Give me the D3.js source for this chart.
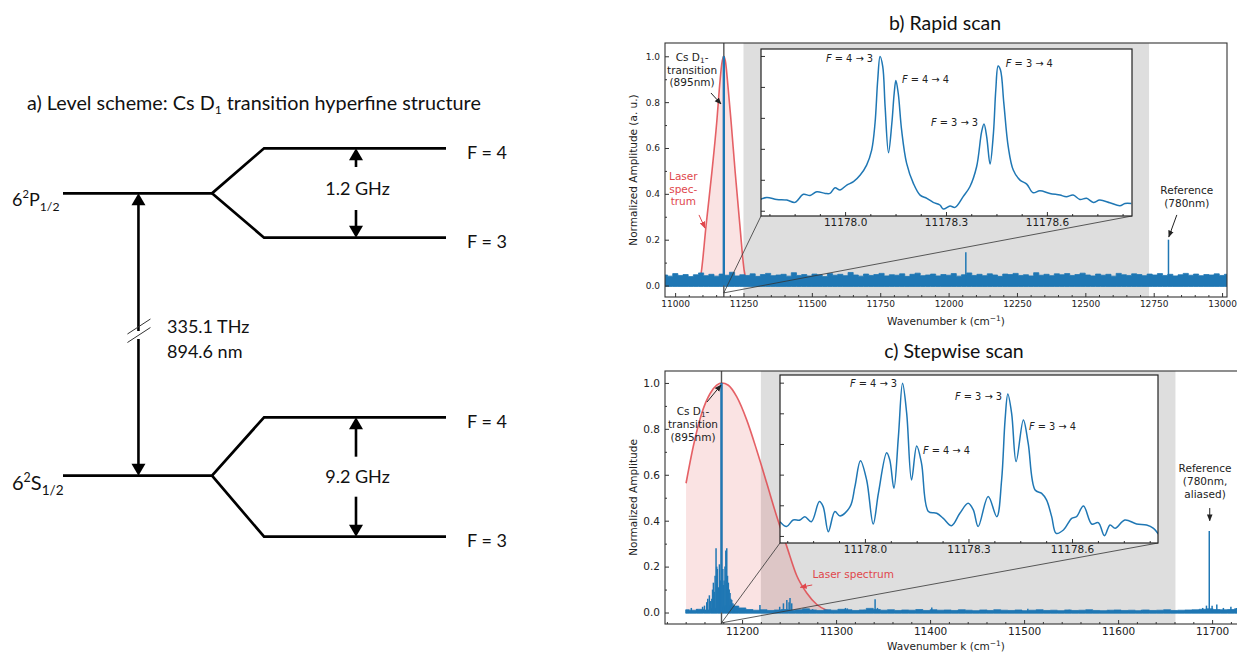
<!DOCTYPE html>
<html>
<head>
<meta charset="utf-8">
<script src="https://cdn.jsdelivr.net/npm/d3@7"></script>
<style>
  body { margin: 0; background: #fff; }
  svg { display: block; }
</style>
</head>
<body>
<script>
// ---------- data ----------
// a) level scheme (diagram units)
const fineLevelY = [2.486, 8.134];      // 6S1/2, 6P1/2
const upperF4Y = [3.654, 9.034];        // F = 4
const lowerF3Y = [1.266, 7.246];        // F = 3
const gapTopY = [2.866, 8.66];          // arrow shafts start (above the GHz text)
const gapBottomY = [2.066, 7.8];        // arrow shafts start (below the GHz text)
const splitText = ['9.2 GHz', '1.2 GHz'];
const levelXs = [0, 0.389, 0.525, 1.0];
const mainArrowX = 0.197;
const hfArrowX = 0.765;
const breakY = 5.3;

// shared ticks
const ampTicks = [0, 0.2, 0.4, 0.6, 0.8, 1.0];
const insetTickK = [11178.0, 11178.3, 11178.6];
const csLineK = 11178.1;

// b) rapid scan
const bTickK = [11000, 11250, 11500, 11750, 12000, 12250, 12500, 12750, 13000];
const bSpan = [11250, 12733];
const bLaserK = [11088, 11097, 11113, 11134, 11152, 11164, 11171, 11178, 11185, 11191, 11205, 11220, 11237, 11252, 11265];
const bLaserV = [0, 0.07, 0.26, 0.49, 0.71, 0.89, 0.97, 1.0, 0.97, 0.90, 0.71, 0.49, 0.26, 0.07, 0];
const bNoiseRange = [10963, 13018];
const bNoiseTop = [0.046,0.041,0.052,0.044,0.048,0.039,0.047,0.055,0.043,0.049,0.041,0.050,0.045,0.058,0.042,0.047,0.044,0.051,0.040,0.048,
  0.053,0.043,0.046,0.049,0.041,0.056,0.044,0.048,0.042,0.050,0.047,0.039,0.052,0.045,0.049,0.043,0.057,0.046,0.041,0.050,
  0.044,0.048,0.053,0.042,0.047,0.045,0.051,0.040,0.049,0.054,0.043,0.046,0.050,0.042,0.048,0.045,0.052,0.041,0.047,0.055,
  0.044,0.049,0.043,0.051,0.046,0.040,0.050,0.048,0.053,0.044,0.047,0.042,0.056,0.045,0.049,0.043,0.051,0.047,0.052,0.044,
  0.048,0.054,0.046,0.042,0.050,0.045,0.049,0.041,0.053,0.047,0.044,0.051,0.048,0.043,0.050,0.046,0.052,0.044,0.049,0.042,
  0.047,0.053,0.045,0.050,0.043,0.048,0.046,0.051,0.044,0.049];
const bSpikeK = [12063, 12804];
const bSpikeV = [0.145, 0.20];
const bInsetK = [11177.748,11177.767,11177.797,11177.827,11177.851,11177.876,11177.896,11177.916,11177.941,11177.955,
  11177.970,11177.985,11178.005,11178.025,11178.045,11178.064,11178.079,11178.089,11178.097,11178.104,
  11178.112,11178.119,11178.129,11178.139,11178.146,11178.151,11178.158,11178.168,11178.183,11178.203,
  11178.223,11178.243,11178.262,11178.282,11178.292,11178.312,11178.327,11178.351,11178.371,11178.391,
  11178.406,11178.413,11178.421,11178.431,11178.441,11178.448,11178.455,11178.462,11178.472,11178.485,
  11178.500,11178.520,11178.540,11178.559,11178.579,11178.609,11178.639,11178.658,11178.678,11178.698,
  11178.718,11178.738,11178.757,11178.787,11178.817,11178.832,11178.851];
const bInsetV = [0.073,0.086,0.073,0.069,0.054,0.106,0.099,0.123,0.112,0.112,
  0.149,0.134,0.166,0.188,0.231,0.295,0.392,0.565,0.845,0.996,
  0.931,0.672,0.375,0.565,0.759,0.841,0.759,0.522,0.306,0.177,
  0.101,0.080,0.054,0.037,0.011,0.030,0.022,0.091,0.155,0.284,
  0.511,0.560,0.478,0.302,0.500,0.780,0.935,0.909,0.694,0.414,
  0.263,0.198,0.172,0.116,0.129,0.112,0.101,0.091,0.101,0.073,
  0.080,0.054,0.069,0.052,0.032,0.047,0.047];
const bPeakLabel = ['4 → 3', '4 → 4', '3 → 3', '3 → 4'];
const bPeakLabelK = [11178.083, 11178.169, 11178.395, 11178.478];
const bPeakLabelV = [0.961, 0.825, 0.548, 0.929];
const peakLabelAnchor = ['end', 'start', 'end', 'start'];

// c) stepwise scan
const cTickK = [11200, 11300, 11400, 11500, 11600, 11700];
const cSpan = [11220, 11661];
const cLaserK = [11140.4, 11148, 11157, 11166, 11173, 11178.4, 11185.4, 11194.4, 11205, 11215.6, 11226.3, 11236.9, 11247.6, 11258.2, 11268.8, 11279.5, 11290, 11298];
const cLaserV = [0.563, 0.722, 0.867, 0.954, 0.99, 1.0, 0.99, 0.939, 0.838, 0.707, 0.563, 0.418, 0.287, 0.16, 0.085, 0.035, 0.01, 0.0];
const cNoiseRange = [11140, 11735];
const cNoiseTop = [0.012,0.010,0.014,0.011,0.018,0.024,0.030,0.028,0.020,0.013,
  0.010,0.012,0.009,0.011,0.013,0.010,0.012,0.016,0.011,0.009,
  0.012,0.010,0.014,0.012,0.009,0.011,0.018,0.013,0.010,0.012,
  0.009,0.011,0.010,0.013,0.009,0.012,0.010,0.011,0.009,0.012,
  0.010,0.008,0.011,0.009,0.012,0.010,0.009,0.011,0.008,0.010,
  0.012,0.009,0.010,0.008,0.011,0.009,0.010,0.012,0.009,0.008,
  0.010,0.011,0.009,0.010,0.008,0.011,0.009,0.010,0.012,0.009,
  0.010,0.011,0.012,0.014,0.016,0.013,0.012,0.013,0.016,0.018];
const cSpikeK = [11146,11152,11158,11160,11162.4,11163.5,11165.2,11166.5,11167.8,11168.6,11169.5,11170.4,11171.3,11172.3,11173,
  11173.7,11174.8,11175.9,11176.8,11179.5,11180.2,11180.9,11181.8,11182.7,11183.7,11184.5,11185.4,11186.3,11187.2,11188,
  11189,11190.2,11191.5,11193,11194.4,11219,11240,11244,11247.6,11250,11251,11252.8,11275,11310,11312,11330,11341.5,11344,
  11370,11401.8,11430,11460,11504,11548,11590,11625,11690,11694,11697,11700,11705,11712,11720,11726];
const cSpikeV = [0.02,0.015,0.025,0.03,0.045,0.06,0.075,0.05,0.06,0.1,0.13,0.09,0.16,0.28,0.2,
  0.19,0.11,0.21,0.14,0.19,0.12,0.14,0.2,0.27,0.28,0.16,0.13,0.1,0.085,0.06,
  0.055,0.04,0.035,0.025,0.025,0.033,0.025,0.04,0.055,0.045,0.063,0.04,0.015,0.02,0.018,0.012,0.058,0.02,
  0.01,0.022,0.01,0.012,0.016,0.012,0.01,0.012,0.02,0.03,0.355,0.03,0.035,0.02,0.025,0.02];
const cInsetK = [11177.754,11177.773,11177.792,11177.812,11177.826,11177.845,11177.868,11177.879,11177.894,11177.913,
  11177.928,11177.957,11177.971,11177.987,11178.005,11178.024,11178.039,11178.063,11178.072,11178.084,
  11178.097,11178.109,11178.121,11178.135,11178.150,11178.164,11178.184,11178.208,11178.227,11178.251,
  11178.275,11178.299,11178.314,11178.328,11178.357,11178.382,11178.396,11178.406,11178.414,11178.425,
  11178.438,11178.459,11178.473,11178.493,11178.512,11178.526,11178.541,11178.554,11178.575,11178.599,
  11178.613,11178.633,11178.657,11178.676,11178.694,11178.710,11178.725,11178.753,11178.787,11178.816,
  11178.836,11178.850];
const cInsetV = [0.093,0.061,0.104,0.104,0.126,0.093,0.224,0.191,0.028,0.159,
  0.130,0.191,0.322,0.491,0.365,0.078,0.278,0.543,0.496,0.311,
  0.648,0.996,0.800,0.365,0.587,0.474,0.159,0.148,0.115,0.067,
  0.148,0.213,0.170,0.061,0.257,0.126,0.365,0.757,0.926,0.800,
  0.485,0.757,0.604,0.300,0.278,0.235,0.126,0.017,0.039,0.115,
  0.126,0.196,0.078,0.087,0.002,0.072,0.050,0.104,0.078,0.072,
  0.050,0.013];
const cPeakLabel = ['4 → 3', '4 → 4', '3 → 3', '3 → 4'];
const cPeakLabelK = [11178.093, 11178.168, 11178.397, 11178.475];
const cPeakLabelV = [0.972, 0.535, 0.887, 0.691];

// ---------- setup ----------
const MPL = "'DejaVu Sans', sans-serif";
const PPT = "Lato, 'Open Sans', sans-serif";
const BLUE = '#1f77b4';
const RED = '#e0474c';

const svg = d3.select('body').append('svg').attr('width', 1237).attr('height', 654);
const defs = svg.append('defs');

function addMarker(id, color) {
  defs.append('marker').attr('id', id)
    .attr('viewBox', '0 0 10 10').attr('refX', 9).attr('refY', 5)
    .attr('markerWidth', 7).attr('markerHeight', 7)
    .attr('markerUnits', 'userSpaceOnUse').attr('orient', 'auto')
    .append('path').attr('d', 'M0,1 L10,5 L0,9 Z').attr('fill', color);
}
addMarker('ah-k', '#222');
addMarker('ah-r', RED);

// ---------- a) level scheme ----------
function drawScheme() {
  const g = svg.append('g');
  const sx = d3.scaleLinear().domain([0, 1]).range([63, 446]);
  const sy = d3.scaleLinear().domain([0, 10]).range([600, 100]);
  const line = d3.line().x(d => sx(d[0])).y(d => sy(d[1]));
  const lw = 2.7;

  g.append('text').attr('x', 27).attr('y', 109.5)
    .attr('font-family', PPT).attr('font-size', 19.8).attr('fill', '#111')
    .call(t => {
      t.append('tspan').text('a) Level scheme: Cs D');
      t.append('tspan').attr('font-size', 12).attr('baseline-shift', '-4').text('1');
      t.append('tspan').text(' transition hyperfine structure');
    });

  fineLevelY.forEach((fy, i) => {
    g.append('path').attr('d', line([[levelXs[0], fy], [levelXs[1], fy], [levelXs[2], upperF4Y[i]], [levelXs[3], upperF4Y[i]]]))
      .attr('fill', 'none').attr('stroke', '#000').attr('stroke-width', lw);
    g.append('path').attr('d', line([[levelXs[1], fy], [levelXs[2], lowerF3Y[i]], [levelXs[3], lowerF3Y[i]]]))
      .attr('fill', 'none').attr('stroke', '#000').attr('stroke-width', lw);

    // F labels
    [[upperF4Y[i], 'F = 4'], [lowerF3Y[i], 'F = 3']].forEach(([ly, txt]) => {
      g.append('text').attr('x', sx(1.055)).attr('y', sy(ly) + 10.7)
        .attr('font-family', PPT).attr('font-size', 18).attr('fill', '#111').text(txt);
    });

    // hyperfine splitting arrows
    const ax = sx(hfArrowX);
    arrowShaft(g, ax, sy(gapTopY[i]), sy(upperF4Y[i]));
    arrowShaft(g, ax, sy(gapBottomY[i]), sy(lowerF3Y[i]));
    g.append('text').attr('x', ax + 1.5).attr('y', sy((gapTopY[i] + gapBottomY[i]) / 2) + 6.5)
      .attr('text-anchor', 'middle').attr('font-family', PPT).attr('font-size', 18).attr('fill', '#111')
      .text(splitText[i]);
  });

  // term labels
  const terms = [['S', 20, 490], ['P', 18, 206]];
  terms.forEach(([L, fs, by]) => {
    g.append('text').attr('x', 12).attr('y', by).attr('font-family', PPT).attr('font-size', fs).attr('fill', '#111')
      .call(t => {
        t.append('tspan').text('6');
        t.append('tspan').attr('font-size', fs * 0.62).attr('baseline-shift', fs * 0.42).text('2');
        t.append('tspan').text(L);
        t.append('tspan').attr('font-size', fs * 0.68).attr('baseline-shift', -fs * 0.25).text('1/2');
      });
  });

  // main optical transition arrow with break
  const mx = sx(mainArrowX);
  const yTop = sy(fineLevelY[1]), yBot = sy(fineLevelY[0]), yb = sy(breakY);
  arrowShaft(g, mx, yb - 4, yTop);
  arrowShaft(g, mx, yb + 4, yBot);
  [[-8.5], [0]].forEach(([off]) => {
    g.append('line').attr('x1', mx - 11).attr('y1', yb + 7.5 + off).attr('x2', mx + 12).attr('y2', yb - 7.5 + off)
      .attr('stroke', '#333').attr('stroke-width', 1);
  });
  g.append('text').attr('x', 167).attr('y', 333).attr('font-family', PPT).attr('font-size', 18).attr('fill', '#111').text('335.1 THz');
  g.append('text').attr('x', 167).attr('y', 358).attr('font-family', PPT).attr('font-size', 18).attr('fill', '#111').text('894.6 nm');
}

function arrowShaft(g, x, yFrom, yTip) {
  const dir = yTip < yFrom ? -1 : 1;
  const hl = 12, hw = 7;
  g.append('line').attr('x1', x).attr('x2', x).attr('y1', yFrom).attr('y2', yTip - dir * (hl - 1))
    .attr('stroke', '#000').attr('stroke-width', 2.6);
  g.append('path').attr('d', `M${x},${yTip} L${x - hw},${yTip - dir * hl} L${x + hw},${yTip - dir * hl} Z`)
    .attr('fill', '#000');
}

// ---------- b) and c) spectra ----------
function styleAxis(sel, fs) {
  sel.select('.domain').remove();
  sel.selectAll('line').attr('stroke', '#333');
  sel.selectAll('text').attr('font-family', MPL).attr('font-size', fs).attr('fill', '#222');
}

function notIn(vals, majors) {
  return vals.filter(v => !majors.some(m => Math.abs(m - v) < 1e-6));
}

function multiText(g, x, y, lines, opts) {
  const t = g.append('text').attr('x', x).attr('y', y).attr('text-anchor', 'middle')
    .attr('font-family', MPL).attr('font-size', opts.fs).attr('fill', opts.color || '#222');
  lines.forEach((ln, i) => {
    const ts = t.append('tspan').attr('x', x).attr('dy', i === 0 ? 0 : opts.lh);
    if (Array.isArray(ln)) {
      ts.text(ln[0]);
      t.append('tspan').attr('font-size', opts.fs * 0.7).attr('baseline-shift', -2).text(ln[1]);
      t.append('tspan').text(ln[2]);
    } else ts.text(ln);
  });
}

function drawPanel(p) {
  const x = d3.scaleLinear().domain(p.xDomain).range([p.left, p.right]);
  const y = d3.scaleLinear().domain(p.yDomain).range([p.bottom, p.top]);
  const g = svg.append('g');

  defs.append('clipPath').attr('id', 'clip-' + p.id).append('rect')
    .attr('x', p.left).attr('y', p.top).attr('width', p.right - p.left).attr('height', p.bottom - p.top);
  const plot = g.append('g').attr('clip-path', `url(#clip-${p.id})`);

  // zoomed range shading
  plot.append('rect').attr('x', x(p.span[0])).attr('y', p.top)
    .attr('width', x(p.span[1]) - x(p.span[0])).attr('height', p.bottom - p.top)
    .attr('fill', '#dedede');

  // laser spectrum
  const laser = d3.zip(p.laserK, p.laserV);
  plot.append('path').datum(laser)
    .attr('d', d3.area().x(d => x(d[0])).y0(y(0)).y1(d => y(d[1])).curve(d3.curveMonotoneX))
    .attr('fill', '#d62728').attr('fill-opacity', 0.13);
  plot.append('path').datum(laser)
    .attr('d', d3.line().x(d => x(d[0])).y(d => y(d[1])).curve(d3.curveMonotoneX))
    .attr('fill', 'none').attr('stroke', RED).attr('stroke-opacity', 0.85).attr('stroke-width', 1.6);

  // noise floor of the measured spectrum
  const n = p.noiseTop.length;
  const grid = d3.range(n).map(i => p.noiseRange[0] + i * (p.noiseRange[1] - p.noiseRange[0]) / (n - 1));
  plot.append('path').datum(d3.zip(grid, p.noiseTop))
    .attr('d', d3.area().x(d => x(d[0])).y0(y(p.noiseFloor)).y1(d => y(d[1])).curve(d3.curveStep))
    .attr('fill', BLUE).attr('stroke', BLUE).attr('stroke-width', 0.8);

  // Cs line marker
  plot.append('line').attr('x1', x(csLineK)).attr('x2', x(csLineK)).attr('y1', p.top).attr('y2', p.bottom)
    .attr('stroke', '#555').attr('stroke-width', 1.4);

  // spikes
  plot.selectAll('line.spike').data(d3.zip(p.spikeK, p.spikeV)).join('line').attr('class', 'spike')
    .attr('x1', d => x(d[0])).attr('x2', d => x(d[0]))
    .attr('y1', y(0)).attr('y2', d => y(d[1]))
    .attr('stroke', BLUE).attr('stroke-width', 1.5);
  plot.append('line').attr('x1', x(csLineK)).attr('x2', x(csLineK)).attr('y1', y(0)).attr('y2', y(1.0))
    .attr('stroke', BLUE).attr('stroke-width', 2.4);

  // connector lines to inset
  const ins = p.inset;
  [ins.left, ins.right].forEach(cx => {
    g.append('line').attr('x1', x(csLineK)).attr('y1', y(p.connV)).attr('x2', cx).attr('y2', ins.bottom)
      .attr('stroke', '#333').attr('stroke-width', 0.8);
  });

  drawInset(g, p);

  // annotations
  multiText(g, x(p.csText[0]), y(p.csText[1]), [['Cs D', '1', '-'], 'transition', '(895nm)'], { fs: 10.5, lh: p.lh });
  g.append('line').attr('x1', x(p.csArrow[0][0])).attr('y1', y(p.csArrow[0][1]))
    .attr('x2', x(p.csArrow[1][0])).attr('y2', y(p.csArrow[1][1]))
    .attr('stroke', '#222').attr('stroke-width', 1).attr('marker-end', 'url(#ah-k)');
  multiText(g, x(p.laserText[0]), y(p.laserText[1]), p.laserLines, { fs: 10.5, lh: p.lh, color: RED });
  g.append('line').attr('x1', x(p.laserArrow[0][0])).attr('y1', y(p.laserArrow[0][1]))
    .attr('x2', x(p.laserArrow[1][0])).attr('y2', y(p.laserArrow[1][1]))
    .attr('stroke', RED).attr('stroke-width', 1).attr('marker-end', 'url(#ah-r)');
  multiText(g, x(p.refText[0]), y(p.refText[1]), p.refLines, { fs: 10.5, lh: p.lh });
  g.append('line').attr('x1', x(p.refArrow[0][0])).attr('y1', y(p.refArrow[0][1]))
    .attr('x2', x(p.refArrow[1][0])).attr('y2', y(p.refArrow[1][1]))
    .attr('stroke', '#222').attr('stroke-width', 1).attr('marker-end', 'url(#ah-k)');

  // axes
  const xa = g.append('g').attr('transform', `translate(0,${p.bottom})`)
    .call(d3.axisBottom(x).tickValues(p.xTicks).tickFormat(d3.format('d')).tickSizeInner(-4).tickSizeOuter(0).tickPadding(p.xPad));
  styleAxis(xa, p.tickFs);
  const xm = g.append('g').attr('transform', `translate(0,${p.bottom})`)
    .call(d3.axisBottom(x).tickValues(notIn(p.xMinor, p.xTicks)).tickFormat('').tickSizeInner(-2).tickSizeOuter(0));
  styleAxis(xm, p.tickFs);
  const ya = g.append('g').attr('transform', `translate(${p.left},0)`)
    .call(d3.axisLeft(y).tickValues(ampTicks).tickFormat(d3.format('.1f')).tickSizeInner(-4).tickSizeOuter(0).tickPadding(5));
  styleAxis(ya, p.tickFs);
  const ym = g.append('g').attr('transform', `translate(${p.left},0)`)
    .call(d3.axisLeft(y).tickValues(notIn(d3.range(0, 1.05, 0.1), ampTicks)).tickFormat('').tickSizeInner(-2).tickSizeOuter(0));
  styleAxis(ym, p.tickFs);

  g.append('rect').attr('x', p.left).attr('y', p.top).attr('width', p.right - p.left).attr('height', p.bottom - p.top)
    .attr('fill', 'none').attr('stroke', '#333').attr('stroke-width', 1.1);

  // labels
  g.append('text').attr('x', 946).attr('y', p.xLabelY).attr('text-anchor', 'middle')
    .attr('font-family', MPL).attr('font-size', 10.5).attr('fill', '#222')
    .call(t => {
      t.append('tspan').text('Wavenumber k (cm');
      t.append('tspan').attr('font-size', 7.5).attr('baseline-shift', 4).text('−1');
      t.append('tspan').text(')');
    });
  g.append('text').attr('transform', `translate(637,${(p.top + p.bottom) / 2}) rotate(-90)`)
    .attr('text-anchor', 'middle').attr('font-family', MPL).attr('font-size', 10.5).attr('fill', '#222')
    .text(p.yLabel);
  g.append('text').attr('x', p.titleX).attr('y', p.titleY).attr('text-anchor', 'middle')
    .attr('font-family', PPT).attr('font-size', 19.5).attr('fill', '#111').text(p.title);
}

function drawInset(g, p) {
  const ins = p.inset;
  const ix = d3.scaleLinear().domain(ins.xDomain).range([ins.left, ins.right]);
  const iy = d3.scaleLinear().domain(ins.yDomain).range([ins.bottom, ins.top]);
  const ig = g.append('g');
  ig.append('rect').attr('x', ins.left).attr('y', ins.top).attr('width', ins.right - ins.left).attr('height', ins.bottom - ins.top)
    .attr('fill', '#fff');
  defs.append('clipPath').attr('id', 'iclip-' + p.id).append('rect')
    .attr('x', ins.left).attr('y', ins.top).attr('width', ins.right - ins.left).attr('height', ins.bottom - ins.top);
  ig.append('path').datum(d3.zip(ins.k, ins.v)).attr('clip-path', `url(#iclip-${p.id})`)
    .attr('d', d3.line().x(d => ix(d[0])).y(d => iy(d[1])).curve(d3.curveCatmullRom.alpha(0.5)))
    .attr('fill', 'none').attr('stroke', BLUE).attr('stroke-width', 1.5);

  const xa = ig.append('g').attr('transform', `translate(0,${ins.bottom})`)
    .call(d3.axisBottom(ix).tickValues(insetTickK).tickFormat(d3.format('.1f')).tickSizeInner(-4).tickSizeOuter(0).tickPadding(3));
  styleAxis(xa, 10.5);
  const xm = ig.append('g').attr('transform', `translate(0,${ins.bottom})`)
    .call(d3.axisBottom(ix).tickValues(notIn(d3.range(11177.775, 11178.85, 0.075), insetTickK)).tickFormat('').tickSizeInner(-2).tickSizeOuter(0));
  styleAxis(xm, 10.5);
  const ya = ig.append('g').attr('transform', `translate(${ins.left},0)`)
    .call(d3.axisLeft(iy).tickValues(ampTicks).tickFormat('').tickSizeInner(-4).tickSizeOuter(0));
  styleAxis(ya, 10.5);

  ig.append('rect').attr('x', ins.left).attr('y', ins.top).attr('width', ins.right - ins.left).attr('height', ins.bottom - ins.top)
    .attr('fill', 'none').attr('stroke', '#222').attr('stroke-width', 1.2);

  ins.labels.forEach((lab, i) => {
    ig.append('text').attr('x', ix(ins.labelK[i])).attr('y', iy(ins.labelV[i]))
      .attr('text-anchor', peakLabelAnchor[i]).attr('font-family', MPL).attr('font-size', 9.8).attr('fill', '#222')
      .call(t => {
        t.append('tspan').attr('font-style', 'italic').text('F');
        t.append('tspan').text(' = ' + lab);
      });
  });
}

drawScheme();

drawPanel({
  id: 'b', left: 665, right: 1227, top: 43, bottom: 297,
  xDomain: [10963, 13018], yDomain: [-0.05, 1.058],
  xTicks: bTickK, xMinor: d3.range(11000, 13001, 50), xPad: 4, tickFs: 9,
  span: bSpan, laserK: bLaserK, laserV: bLaserV,
  noiseRange: bNoiseRange, noiseTop: bNoiseTop, noiseFloor: -0.004,
  spikeK: bSpikeK, spikeV: bSpikeV, connV: -0.032,
  inset: { left: 761, right: 1132, top: 49, bottom: 216,
    xDomain: [11177.75, 11178.853], yDomain: [-0.034, 1.045],
    k: bInsetK, v: bInsetV, labels: bPeakLabel, labelK: bPeakLabelK, labelV: bPeakLabelV },
  lh: 12.5,
  csText: [11062, 0.979], csArrow: [[11131, 0.84], [11167.8, 0.792]],
  laserLines: ['Laser', 'spec-', 'trum'], laserText: [11030, 0.46], laserArrow: [[11087.3, 0.308], [11109.2, 0.251]],
  refLines: ['Reference', '(780nm)'], refText: [12871, 0.399], refArrow: [[12834.5, 0.308], [12805.2, 0.212]],
  xLabelY: 325, yLabel: 'Normalized Amplitude (a. u.)',
  title: 'b) Rapid scan', titleX: 945, titleY: 30
});

drawPanel({
  id: 'c', left: 665, right: 1245, top: 371, bottom: 624,
  xDomain: [11118, 11735], yDomain: [-0.05, 1.052],
  xTicks: cTickK, xMinor: d3.range(11120, 11735, 20), xPad: 4, tickFs: 10.5,
  span: cSpan, laserK: cLaserK, laserV: cLaserV,
  noiseRange: cNoiseRange, noiseTop: cNoiseTop, noiseFloor: -0.003,
  spikeK: cSpikeK, spikeV: cSpikeV, connV: -0.045,
  inset: { left: 780, right: 1158, top: 375, bottom: 543,
    xDomain: [11177.754, 11178.849], yDomain: [-0.046, 1.05],
    k: cInsetK, v: cInsetV, labels: cPeakLabel, labelK: cPeakLabelK, labelV: cPeakLabelV },
  lh: 13,
  csText: [11147.8, 0.86], csArrow: [[11162.7, 0.917], [11177.6, 0.991]],
  laserLines: ['Laser spectrum'], laserText: [11318.2, 0.15], laserArrow: [[11274.6, 0.12], [11262, 0.11]],
  refLines: ['Reference', '(780nm,', 'aliased)'], refText: [11692.5, 0.612], refArrow: [[11697.5, 0.455], [11697.5, 0.40]],
  xLabelY: 650, yLabel: 'Normalized Amplitude',
  title: 'c) Stepwise scan', titleX: 954, titleY: 358
});
</script>
</body>
</html>
